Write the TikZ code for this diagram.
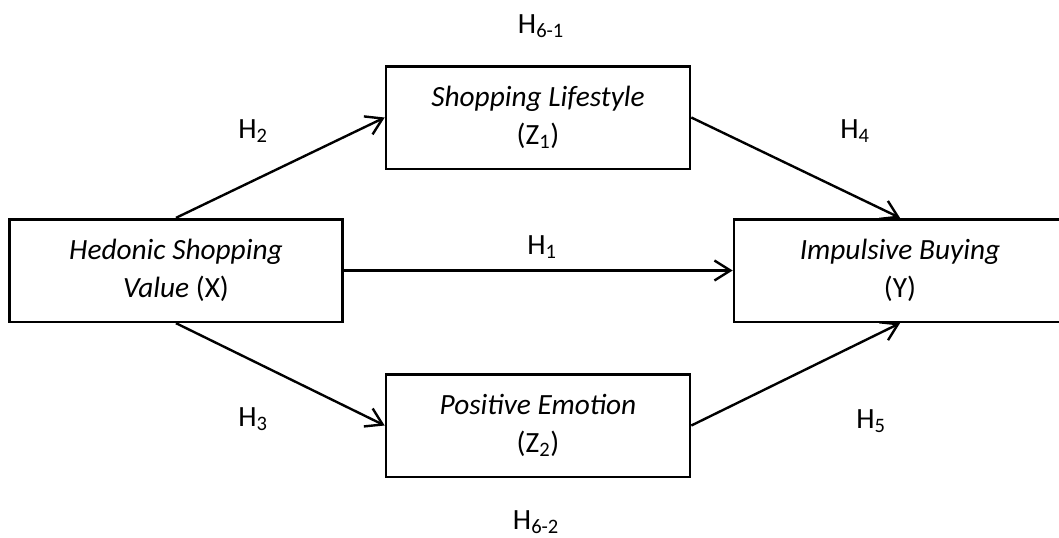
\documentclass[tikz,border=0pt]{standalone}
\usepackage{fontspec}
\setmainfont{Carlito}
\usetikzlibrary{arrows.meta, positioning}

\begin{document}
\begin{tikzpicture}[x=0.75pt, y=-0.75pt,
    varbox/.style={draw, line width=2pt, align=center, inner sep=0pt,
        minimum height=77pt, font=\fontsize{22}{28}\selectfont},
    link/.style={line width=1.8pt, -{Straight Barb[length=12pt, width=15pt]}},
    hyp/.style={font=\fontsize{22}{24}\selectfont}]
    % Page size (pixels of the original)
    \useasboundingbox (0,0) rectangle (1059,537);

    % Variables
    \node[varbox, minimum width=250pt] (hsv) at (176,270.5) {\textit{Hedonic Shopping}\\\textit{Value} (X)};
    \node[varbox, minimum width=228pt] (sl)  at (538,117.5) {\textit{Shopping Lifestyle}\\(Z\textsubscript{1})};
    \node[varbox, minimum width=228pt] (pe)  at (538,425.5) {\textit{Positive Emotion}\\(Z\textsubscript{2})};
    \node[varbox, minimum width=249pt] (ib)  at (900,270.5) {\textit{Impulsive Buying}\\(Y)};

    % Paths
    \draw[link] (hsv.north) -- (sl.west);
    \draw[link] (sl.east) -- (ib.north);
    \draw[link] (hsv.east) -- (ib.west);
    \draw[link] (hsv.south) -- (pe.west);
    \draw[link] (pe.east) -- (ib.south);

    % Hypotheses
    \node[hyp] (h61) at (541,26)  {H\textsubscript{6-1}};
    \node[hyp] (h2)  at (253,131) {H\textsubscript{2}};
    \node[hyp] (h4)  at (855,131) {H\textsubscript{4}};
    \node[hyp] (h1)  at (542,247) {H\textsubscript{1}};
    \node[hyp] (h3)  at (253,419) {H\textsubscript{3}};
    \node[hyp] (h5)  at (871,421) {H\textsubscript{5}};
    \node[hyp] (h62) at (536,522) {H\textsubscript{6-2}};
\end{tikzpicture}
\end{document}
